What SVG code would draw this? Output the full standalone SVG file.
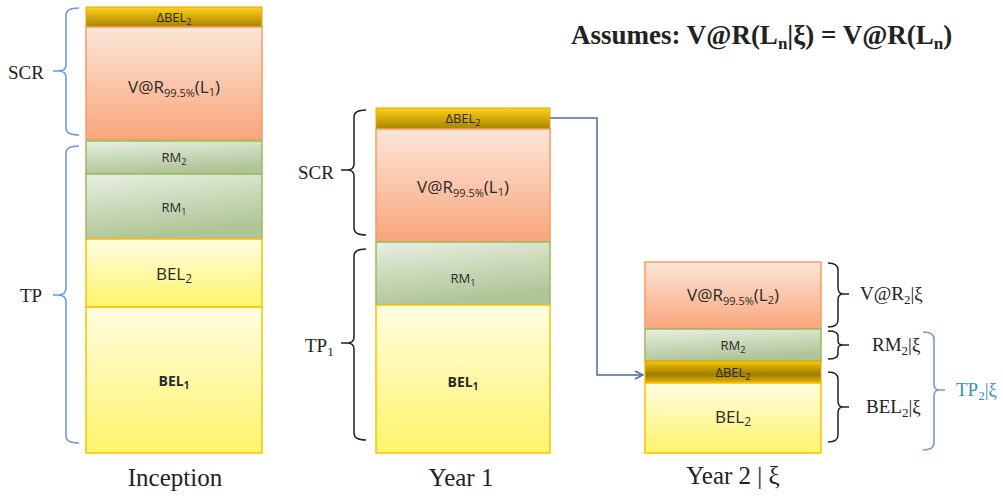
<svg xmlns="http://www.w3.org/2000/svg" width="1003" height="496" viewBox="0 0 1003 496">
<defs>
<linearGradient id="gGold" x1="0" y1="0" x2="0" y2="1"><stop offset="0" stop-color="#FFD21A"/><stop offset="1" stop-color="#A88300"/></linearGradient>
<linearGradient id="gGold2" x1="0" y1="0" x2="0" y2="1"><stop offset="0" stop-color="#F8C800"/><stop offset="0.6" stop-color="#9E7C00"/><stop offset="1" stop-color="#E5B600"/></linearGradient>
<linearGradient id="gOr" x1="0" y1="0" x2="0" y2="1"><stop offset="0" stop-color="#FCE6D8"/><stop offset="1" stop-color="#F8A57B"/></linearGradient>
<linearGradient id="gGr" x1="0" y1="0" x2="0.3" y2="1"><stop offset="0" stop-color="#E8EFE1"/><stop offset="1" stop-color="#AFC497"/></linearGradient>
<linearGradient id="gYe" x1="0" y1="0" x2="0" y2="1"><stop offset="0" stop-color="#FFFDE2"/><stop offset="1" stop-color="#FFF46A"/></linearGradient>
<marker id="arr" viewBox="0 0 10 10" refX="9" refY="5" markerWidth="10" markerHeight="10" markerUnits="userSpaceOnUse" orient="auto"><path d="M1 1 L9 5 L1 9" fill="none" stroke="#4C6D99" stroke-width="1.4"/></marker>
</defs>
<style>
.gold{fill:url(#gGold);stroke:#E6A800;stroke-width:1}
.gold2{fill:url(#gGold2);stroke:#E6A800;stroke-width:1}
.or{fill:url(#gOr);stroke:#F79A5E;stroke-width:1.5}
.gr{fill:url(#gGr);stroke:#9BBB59;stroke-width:1.5}
.ye{fill:url(#gYe);stroke:#FFC000;stroke-width:1.5}
.bx{font-family:"Open Sans","Liberation Sans",sans-serif;fill:#2a2a2a;text-anchor:middle}
.s{font-size:0.7em}
.ser{font-family:"Liberation Serif","Times New Roman",serif;fill:#222}
.bl{fill:none;stroke:#6E9CD6;stroke-width:1.6}
.bk{fill:none;stroke:#222;stroke-width:1.5}
</style>

<g id="title"><text class="ser" x="571" y="44" font-size="27" font-weight="bold">Assumes: V@R(L<tspan font-size="17" dy="5">n</tspan><tspan dy="-5">|ξ) = V@R(L</tspan><tspan font-size="17" dy="5">n</tspan><tspan dy="-5">)</tspan></text></g>

<g id="inception">
<rect class="gold" x="86" y="7" width="176" height="20"/>
<rect class="or" x="86" y="27" width="176" height="113"/>
<rect class="gr" x="86" y="141" width="176" height="33"/>
<rect class="gr" x="86" y="174" width="176" height="65"/>
<rect class="ye" x="86" y="239" width="176" height="68"/>
<rect class="ye" x="86" y="307" width="176" height="146"/>
<text class="bx" x="174" y="22" font-size="13">ΔBEL<tspan class="s" dy="3">2</tspan></text>
<text class="bx" x="174" y="93" font-size="17">V@R<tspan font-size="11" dy="4">99.5%</tspan><tspan dy="-4">(L</tspan><tspan font-size="11" dy="3">1</tspan><tspan dy="-3">)</tspan></text>
<text class="bx" x="174" y="162" font-size="13">RM<tspan class="s" dy="3">2</tspan></text>
<text class="bx" x="174" y="212" font-size="13">RM<tspan class="s" dy="3">1</tspan></text>
<text class="bx" x="174" y="280" font-size="17">BEL<tspan class="s" dy="3">2</tspan></text>
<text class="bx" x="174" y="386" font-size="14" font-weight="bold">BEL<tspan class="s" dy="3">1</tspan></text>
<text class="ser" x="175" y="486" font-size="25" text-anchor="middle">Inception</text>
</g>
<g id="inception-braces">
<path class="bl" d="M79 8 Q66 8 66 15 L66 65 Q66 71 58 71 M53 71 L58 71 Q66 71 66 77 L66 128 Q66 135 79 135"/>
<path class="bl" d="M79 146 Q66 146 66 153 L66 288 Q66 295 58 295 M53 295 L58 295 Q66 295 66 302 L66 436 Q66 443 79 443"/>
<text class="ser" x="8" y="79" font-size="19">SCR</text>
<text class="ser" x="20" y="302" font-size="19">TP</text>
</g>

<g id="year1">
<rect class="gold" x="376" y="108" width="174" height="21"/>
<rect class="or" x="376" y="129" width="174" height="113"/>
<rect class="gr" x="376" y="242" width="174" height="63"/>
<rect class="ye" x="376" y="305" width="174" height="148"/>
<text class="bx" x="463" y="123" font-size="13">ΔBEL<tspan class="s" dy="3">2</tspan></text>
<text class="bx" x="463" y="193" font-size="17">V@R<tspan font-size="11" dy="4">99.5%</tspan><tspan dy="-4">(L</tspan><tspan font-size="11" dy="3">1</tspan><tspan dy="-3">)</tspan></text>
<text class="bx" x="463" y="283" font-size="13">RM<tspan class="s" dy="3">1</tspan></text>
<text class="bx" x="463" y="387" font-size="14" font-weight="bold">BEL<tspan class="s" dy="3">1</tspan></text>
<text class="ser" x="461" y="486" font-size="25" text-anchor="middle">Year 1</text>
</g>
<g id="year1-braces">
<path class="bk" d="M366 110 Q354 110 354 117 L354 164 Q354 170 347 170 M341 170 L347 170 Q354 170 354 176 L354 228 Q354 235 366 235"/>
<path class="bk" d="M366 249 Q354 249 354 256 L354 337 Q354 343 347 343 M341 343 L347 343 Q354 343 354 349 L354 433 Q354 440 366 440"/>
<text class="ser" x="298" y="179" font-size="19">SCR</text>
<text class="ser" x="305" y="352" font-size="19">TP<tspan font-size="13" dy="4">1</tspan></text>
</g>

<g id="year2">
<rect class="or" x="645" y="262" width="176" height="67"/>
<rect class="gr" x="645" y="329" width="176" height="32"/>
<rect class="gold2" x="645" y="361" width="176" height="22"/>
<rect class="ye" x="645" y="383" width="176" height="70"/>
<text class="bx" x="733" y="301" font-size="17">V@R<tspan font-size="11" dy="4">99.5%</tspan><tspan dy="-4">(L</tspan><tspan font-size="11" dy="3">2</tspan><tspan dy="-3">)</tspan></text>
<text class="bx" x="733" y="350" font-size="13">RM<tspan class="s" dy="3">2</tspan></text>
<text class="bx" x="733" y="377" font-size="13">ΔBEL<tspan class="s" dy="3">2</tspan></text>
<text class="bx" x="733" y="423" font-size="17">BEL<tspan class="s" dy="3">2</tspan></text>
<text class="ser" x="733" y="484" font-size="25" text-anchor="middle">Year 2 | ξ</text>
</g>
<g id="year2-braces">
<path class="bk" d="M828 263 Q838 263 838 270 L838 287 Q838 294 843 294 M849 294 L843 294 Q838 294 838 300 L838 320 Q838 327 828 327"/>
<path class="bk" d="M828 331 Q838 331 838 336 L838 341 Q838 345 843 345 M849 345 L843 345 Q838 345 838 349 L838 354 Q838 359 828 359"/>
<path class="bk" d="M828 372 Q838 372 838 379 L838 401 Q838 407 843 407 M849 407 L843 407 Q838 407 838 413 L838 435 Q838 442 828 442"/>
<path class="bl" d="M923 332 Q934 332 934 339 L934 384 Q934 390 939 390 M945 390 L939 390 Q934 390 934 396 L934 443 Q934 450 923 450"/>
<text class="ser" x="860" y="300" font-size="19">V@R<tspan font-size="13" dy="4">2</tspan><tspan dy="-4">|ξ</tspan></text>
<text class="ser" x="872" y="351" font-size="19">RM<tspan font-size="13" dy="4">2</tspan><tspan dy="-4">|ξ</tspan></text>
<text class="ser" x="866" y="413" font-size="19">BEL<tspan font-size="13" dy="4">2</tspan><tspan dy="-4">|ξ</tspan></text>
<text class="ser" x="956" y="396" font-size="19" style="fill:#3F8FB8">TP<tspan font-size="13" dy="4">2</tspan><tspan dy="-4">|ξ</tspan></text>
</g>

<g id="connectors">
<path d="M550 118 L597 118 L597 375 L643 375" fill="none" stroke="#4C6D99" stroke-width="1.5" marker-end="url(#arr)"/>
</g>
</svg>
